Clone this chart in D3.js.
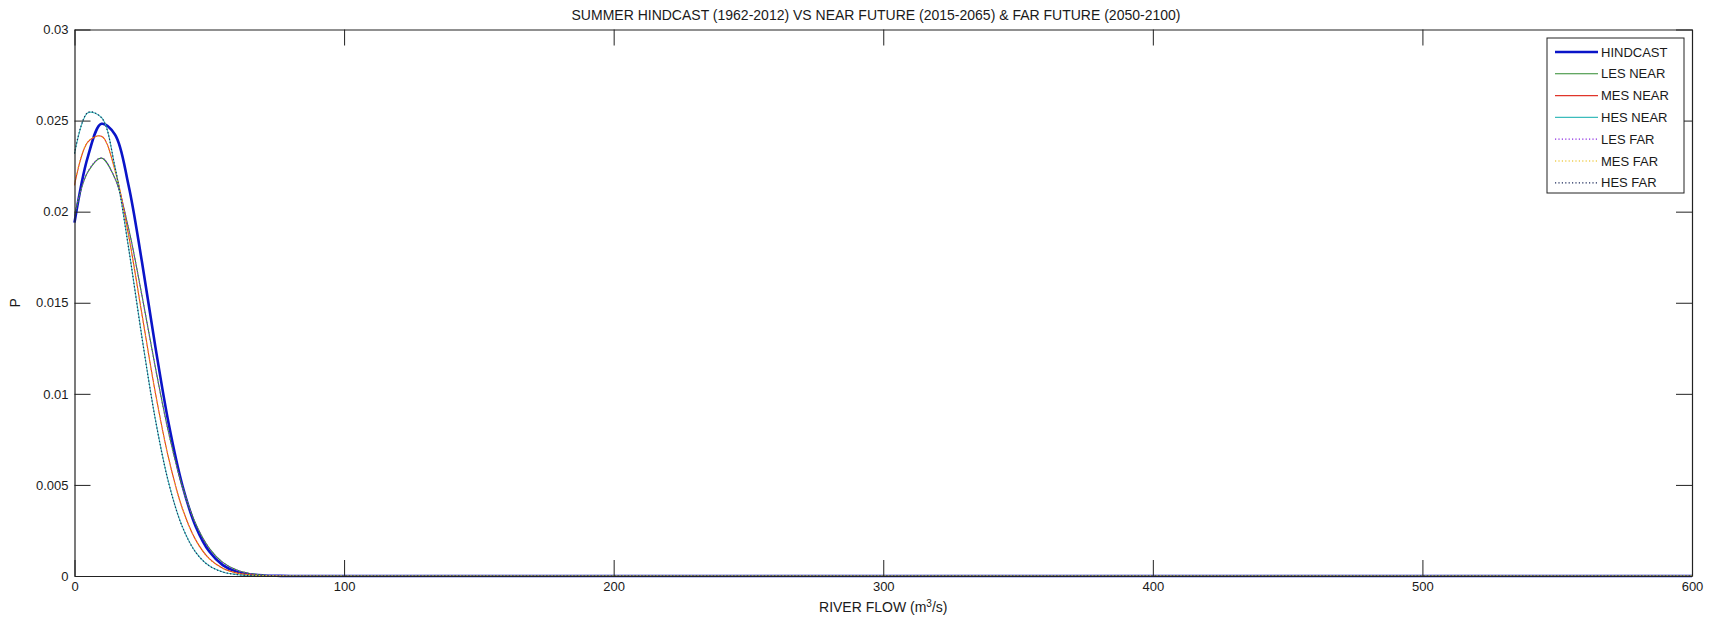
<!DOCTYPE html>
<html>
<head>
<meta charset="utf-8">
<script src="https://cdn.jsdelivr.net/npm/d3@7"></script>
<style>
  html, body { margin: 0; padding: 0; background: #ffffff; }
  svg text { font-family: "Liberation Sans", Arial, Helvetica, sans-serif; fill: #1a1a1a; }
</style>
</head>
<body>
<svg id="chart" width="1711" height="621"></svg>
<script>
// River flow values (m^3/s) at which each density curve is sampled
const flow = [0, 5, 10, 15, 20, 25, 30, 35, 40, 45, 50, 55, 60, 65, 70, 75, 80,
              100, 150, 200, 250, 300, 350, 400, 450, 500, 550, 600];

// Probability density for each scenario
const hindcast = [0.01940, 0.02304, 0.02482, 0.02424, 0.02148, 0.01726, 0.01258, 0.00831, 0.00498, 0.00271,
                  0.00134, 0.00060, 0.00024, 0.00009, 0.00003, 0.00001, 0, 0, 0, 0, 0, 0, 0, 0, 0, 0, 0, 0];
const lesNear  = [0.01976, 0.02219, 0.02294, 0.02183, 0.01912, 0.01542, 0.01145, 0.00782, 0.00492, 0.00285,
                  0.00152, 0.00075, 0.00034, 0.00014, 0.00005, 0.00002, 0.00001, 0, 0, 0, 0, 0, 0, 0, 0, 0, 0, 0];
const mesNear  = [0.02144, 0.02383, 0.02414, 0.02229, 0.01876, 0.01439, 0.01006, 0.00641, 0.00372, 0.00197,
                  0.00095, 0.00042, 0.00017, 0.00006, 0.00002, 0.00001, 0, 0, 0, 0, 0, 0, 0, 0, 0, 0, 0, 0];
const hesNear  = [0.02317, 0.02543, 0.02517, 0.02247, 0.01809, 0.01313, 0.00860, 0.00508, 0.00271, 0.00130,
                  0.00056, 0.00022, 0.00008, 0.00002, 0.00001, 0, 0, 0, 0, 0, 0, 0, 0, 0, 0, 0, 0, 0];
const lesFar   = [0.01980, 0.02221, 0.02295, 0.02182, 0.01910, 0.01540, 0.01143, 0.00780, 0.00490, 0.00284,
                  0.00151, 0.00074, 0.00034, 0.00014, 0.00005, 0.00002, 0.00001, 0, 0, 0, 0, 0, 0, 0, 0, 0, 0, 0];
const mesFar   = [0.02148, 0.02385, 0.02413, 0.02226, 0.01872, 0.01436, 0.01003, 0.00639, 0.00370, 0.00196,
                  0.00094, 0.00041, 0.00017, 0.00006, 0.00002, 0.00001, 0, 0, 0, 0, 0, 0, 0, 0, 0, 0, 0, 0];
const hesFar   = [0.02320, 0.02545, 0.02516, 0.02245, 0.01806, 0.01310, 0.00858, 0.00506, 0.00270, 0.00129,
                  0.00056, 0.00022, 0.00008, 0.00002, 0.00001, 0, 0, 0, 0, 0, 0, 0, 0, 0, 0, 0, 0, 0];

const seriesNames = ["HINDCAST", "LES NEAR", "MES NEAR", "HES NEAR", "LES FAR", "MES FAR", "HES FAR"];
const seriesValues = [hindcast, lesNear, mesNear, hesNear, lesFar, mesFar, hesFar];

// Axis ticks
const xTicks = [0, 100, 200, 300, 400, 500, 600];
const yTicks = [0, 0.005, 0.01, 0.015, 0.02, 0.025, 0.03];
const yTickLabels = ["0", "0.005", "0.01", "0.015", "0.02", "0.025", "0.03"];

const titleText = "SUMMER HINDCAST (1962-2012) VS NEAR FUTURE (2015-2065) & FAR FUTURE (2050-2100)";

// Line styling per series
const styles = [
  { color: "#0a14c8", width: 2.6, dash: null },
  { color: "#2f8a2f", width: 1.1, dash: null },
  { color: "#e0352a", width: 1.1, dash: null },
  { color: "#3cbcbc", width: 1.1, dash: null },
  { color: "#8a2be2", width: 1.2, dash: "1.2,2.2" },
  { color: "#e8b800", width: 1.2, dash: "1.2,2.2" },
  { color: "#1c2a5a", width: 1.2, dash: "1.2,2.2" }
];

const svg = d3.select("#chart");
const plot = { left: 74.5, right: 1692, top: 29.5, bottom: 576 };
const tickLen = 16;

const x = d3.scaleLinear().domain([0, 600]).range([plot.left, plot.right]);
const y = d3.scaleLinear().domain([0, 0.03]).range([plot.bottom, plot.top]);

svg.append("rect").attr("width", 1711).attr("height", 621).attr("fill", "#ffffff");

// Curves
const line = d3.line()
  .x((d, i) => x(flow[i]))
  .y(d => y(d))
  .curve(d3.curveCatmullRom.alpha(0.5));

const curves = svg.append("g").attr("class", "curves");
seriesValues.forEach((vals, k) => {
  const s = styles[k];
  curves.append("path")
    .attr("d", line(vals))
    .attr("fill", "none")
    .attr("stroke", s.color)
    .attr("stroke-width", s.width)
    .attr("stroke-dasharray", s.dash)
    .attr("stroke-linejoin", "round");
});

// Axes box with inward ticks on all four sides
const axisColor = "#222";
const fontSize = 13;

const bottomAxis = d3.axisBottom(x).tickValues(xTicks).tickSizeInner(-tickLen).tickSizeOuter(0)
  .tickPadding(6).tickFormat(d3.format("d"));
const gB = svg.append("g").attr("transform", `translate(0,${plot.bottom})`).call(bottomAxis);

const leftAxis = d3.axisLeft(y).tickValues(yTicks).tickSizeInner(-tickLen).tickSizeOuter(0)
  .tickPadding(6).tickFormat((d, i) => yTickLabels[i]);
const gL = svg.append("g").attr("transform", `translate(${plot.left},0)`).call(leftAxis);

const topAxis = d3.axisTop(x).tickValues(xTicks).tickSizeInner(-tickLen).tickSizeOuter(0).tickFormat("");
const gT = svg.append("g").attr("transform", `translate(0,${plot.top})`).call(topAxis);

const rightAxis = d3.axisRight(y).tickValues(yTicks).tickSizeInner(-tickLen).tickSizeOuter(0).tickFormat("");
const gR = svg.append("g").attr("transform", `translate(${plot.right},0)`).call(rightAxis);

[gB, gL, gT, gR].forEach(g => {
  g.select(".domain").attr("stroke", axisColor).attr("stroke-width", 1.2);
  g.selectAll(".tick line").attr("stroke", axisColor).attr("stroke-width", 1);
  g.selectAll(".tick text")
    .attr("fill", "#1a1a1a")
    .style("font-family", "'Liberation Sans', Arial, sans-serif")
    .style("font-size", fontSize + "px");
});

// Title
svg.append("text")
  .attr("x", 876)
  .attr("y", 20)
  .attr("text-anchor", "middle")
  .style("font-size", "14px")
  .text(titleText);

// X axis label with superscript
const xl = svg.append("text")
  .attr("x", (plot.left + plot.right) / 2)
  .attr("y", 612)
  .attr("text-anchor", "middle")
  .style("font-size", "14px");
xl.append("tspan").text("RIVER FLOW (m");
xl.append("tspan").attr("dy", -5).style("font-size", "10px").text("3");
xl.append("tspan").attr("dy", 5).text("/s)");

// Y axis label
svg.append("text")
  .attr("transform", `translate(20,${y(0.015)}) rotate(-90)`)
  .attr("text-anchor", "middle")
  .style("font-size", "14px")
  .text("P");

// Legend
const legend = { left: 1547, top: 38, width: 137, height: 155, rowStart: 52, rowGap: 21.8,
                 lineX0: 1555, lineX1: 1598, textX: 1601 };
const lg = svg.append("g").attr("class", "legend");
lg.append("rect")
  .attr("x", legend.left).attr("y", legend.top)
  .attr("width", legend.width).attr("height", legend.height)
  .attr("fill", "#ffffff").attr("stroke", "#222").attr("stroke-width", 1);

seriesNames.forEach((name, k) => {
  const s = styles[k];
  const ry = legend.rowStart + k * legend.rowGap;
  lg.append("line")
    .attr("x1", legend.lineX0).attr("x2", legend.lineX1)
    .attr("y1", ry).attr("y2", ry)
    .attr("stroke", s.color)
    .attr("stroke-width", s.width)
    .attr("stroke-dasharray", s.dash);
  lg.append("text")
    .attr("x", legend.textX).attr("y", ry + 4.5)
    .style("font-size", fontSize + "px")
    .text(name);
});
</script>
</body>
</html>
